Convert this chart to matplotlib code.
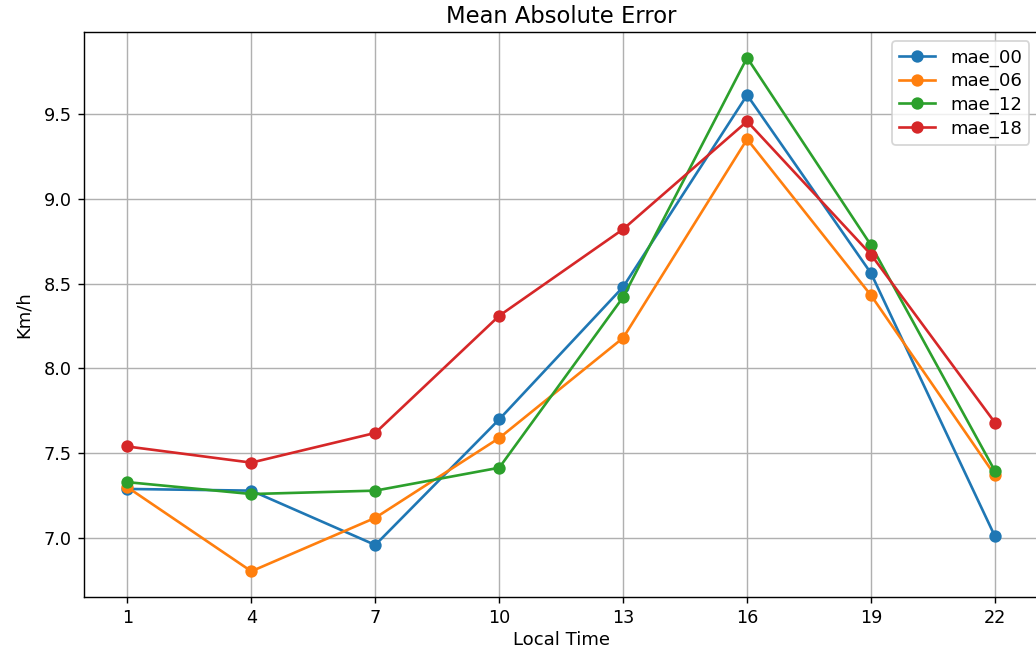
import matplotlib
matplotlib.use("Agg")
import matplotlib.pyplot as plt

# Forecast lead hours (local time) and mean absolute error per model run
local_time = [1, 4, 7, 10, 13, 16, 19, 22]
mae_00 = [7.29, 7.28, 6.96, 7.70, 8.48, 9.61, 8.56, 7.01]
mae_06 = [7.30, 6.805, 7.12, 7.59, 8.18, 9.35, 8.43, 7.37]
mae_12 = [7.33, 7.26, 7.28, 7.415, 8.42, 9.83, 8.725, 7.395]
mae_18 = [7.54, 7.445, 7.62, 8.31, 8.82, 9.455, 8.67, 7.68]

series = {"mae_00": mae_00, "mae_06": mae_06, "mae_12": mae_12, "mae_18": mae_18}

dpi = 127
fig = plt.figure(figsize=(1036 / dpi, 652 / dpi), dpi=dpi)
ax = fig.add_axes([0.0811, 0.0844, 0.9212, 0.8665])

for name, values in series.items():
    ax.plot(local_time, values, marker="o", label=name)

ax.set_xticks(local_time)
ax.set_title("Mean Absolute Error", fontsize=12.8, pad=5)
ax.set_xlabel("Local Time", fontsize=10.3, labelpad=2)
ax.set_ylabel("Km/h", fontsize=10.3, labelpad=6)
ax.grid(True)
ax.legend(loc="upper right", labelspacing=0.3, fontsize=10.3)

fig.savefig("out.png", dpi=dpi)
